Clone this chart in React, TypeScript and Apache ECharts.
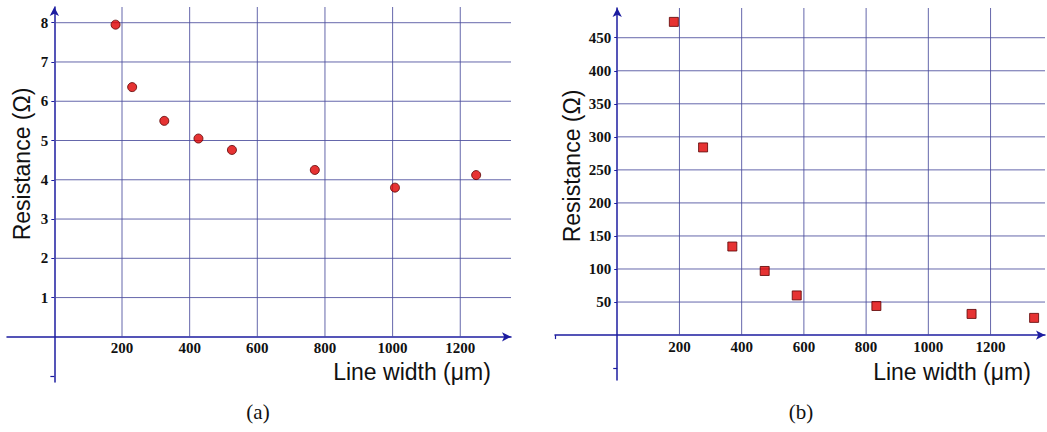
import React, { useEffect, useRef } from "react";
import * as echarts from "echarts";

// Chart (a): circles
const A_WIDTH = [181, 230, 325, 426, 525, 770, 1007, 1247];
const A_RES = [7.95, 6.36, 5.5, 5.05, 4.76, 4.25, 3.8, 4.12];
const A_X_LABELS = [200, 400, 600, 800, 1000, 1200];
const A_Y_LABELS = [1, 2, 3, 4, 5, 6, 7, 8];

// Chart (b): squares
const B_WIDTH = [182, 276, 370, 474, 577, 833, 1139, 1340];
const B_RES = [474, 284, 134, 97, 60, 44, 32, 26];
const B_X_LABELS = [200, 400, 600, 800, 1000, 1200];
const B_Y_LABELS = [50, 100, 150, 200, 250, 300, 350, 400, 450];

const AXIS_COLOR = "#1c1ca0";
const GRID_COLOR = "#4a4c9c";

// layout of each panel: full pixel box and axis value ranges
const PANELS = [
  { left: 7, top: 7, width: 504, height: 375, xMin: -140, xMax: 1350, yMin: -1.15, yMax: 8.4, xTick: [] as number[], yTick: [-1] },
  { left: 555, top: 8, width: 490, height: 372, xMin: -200, xMax: 1375, yMin: -68, yMax: 495, xTick: [-200], yTick: [-50] },
];

function positiveGrid(p: any) {
  const zx = p.left + ((0 - p.xMin) / (p.xMax - p.xMin)) * p.width;
  const zy = p.top + ((p.yMax - 0) / (p.yMax - p.yMin)) * p.height;
  return { left: zx, top: p.top, width: p.left + p.width - zx, height: zy - p.top };
}

function gridSeries(id: number, xs: number[], ys: number[], xMax: number, yMax: number) {
  const data: number[][] = [];
  xs.forEach((v) => data.push([0, v]));
  ys.forEach((v) => data.push([1, v]));
  return {
    type: "custom",
    xAxisIndex: id,
    yAxisIndex: id,
    clip: false,
    silent: true,
    z: 1,
    data,
    renderItem: (params: any, api: any) => {
      const kind = api.value(0);
      const v = api.value(1);
      let p0, p1;
      if (kind === 0) {
        p0 = api.coord([v, 0]);
        p1 = api.coord([v, yMax]);
      } else {
        p0 = api.coord([0, v]);
        p1 = api.coord([xMax, v]);
      }
      return {
        type: "line",
        shape: { x1: p0[0], y1: p0[1], x2: p1[0], y2: p1[1] },
        style: { stroke: GRID_COLOR, lineWidth: 1, opacity: 0.85 },
      };
    },
  };
}

const labelStyle = {
  fontFamily: "Liberation Serif",
  fontWeight: "bold",
  fontSize: 15,
  color: "#111",
  formatter: (v: number) => String(v),
};

// axes of the positive quadrant: labels, ticks at labels, no line
function posAxis(id: number, max: number, labels: number[], isY: boolean) {
  return {
    type: "value",
    gridIndex: id,
    min: 0,
    max,
    splitLine: { show: false },
    axisLine: { show: false },
    axisTick: {
      show: isY,
      customValues: labels,
      length: 3,
      lineStyle: { color: AXIS_COLOR, width: 1 },
    },
    axisLabel: { ...labelStyle, customValues: labels, margin: isY ? 6 : 4 },
  };
}

// full-range axes: just the arrowed lines crossing at zero
function fullAxis(id: number, min: number, max: number, ticks: number[]) {
  return {
    type: "value",
    gridIndex: id,
    min,
    max,
    splitLine: { show: false },
    axisLine: {
      show: true,
      onZero: true,
      symbol: ["none", "arrow"],
      symbolSize: [7, 9],
      lineStyle: { color: AXIS_COLOR, width: 1.5 },
    },
    axisTick: {
      show: ticks.length > 0,
      customValues: ticks,
      length: 4,
      lineStyle: { color: AXIS_COLOR, width: 1.2 },
    },
    axisLabel: { show: false },
  };
}

const nameStyle = {
  fontFamily: "Liberation Sans",
  fontSize: 23,
  fill: "#111",
};

export default function App() {
  const ref = useRef<HTMLDivElement>(null);
  useEffect(() => {
    document.body.style.margin = "0";
    const chart = echarts.init(ref.current!, undefined, { renderer: "svg" });
    const [pa, pb] = PANELS;
    chart.setOption({
      animation: false,
      backgroundColor: "#ffffff",
      grid: [
        positiveGrid(pa),
        positiveGrid(pb),
        { left: pa.left, top: pa.top, width: pa.width, height: pa.height },
        { left: pb.left, top: pb.top, width: pb.width, height: pb.height },
      ],
      xAxis: [
        posAxis(0, pa.xMax, A_X_LABELS, false),
        posAxis(1, pb.xMax, B_X_LABELS, false),
        fullAxis(2, pa.xMin, pa.xMax, pa.xTick),
        fullAxis(3, pb.xMin, pb.xMax, pb.xTick),
      ],
      yAxis: [
        posAxis(0, pa.yMax, A_Y_LABELS, true),
        posAxis(1, pb.yMax, B_Y_LABELS, true),
        fullAxis(2, pa.yMin, pa.yMax, pa.yTick),
        fullAxis(3, pb.yMin, pb.yMax, pb.yTick),
      ],
      series: [
        gridSeries(0, A_X_LABELS, A_Y_LABELS, pa.xMax, pa.yMax),
        gridSeries(1, B_X_LABELS, B_Y_LABELS, pb.xMax, pb.yMax),
        { type: "scatter", xAxisIndex: 2, yAxisIndex: 2, data: [] },
        { type: "scatter", xAxisIndex: 3, yAxisIndex: 3, data: [] },
        {
          type: "scatter",
          xAxisIndex: 0,
          yAxisIndex: 0,
          z: 5,
          symbol: "circle",
          symbolSize: 9,
          itemStyle: { color: "#e00000", borderColor: "#5a0000", borderWidth: 1 },
          data: A_WIDTH.map((w, i) => [w, A_RES[i]]),
        },
        {
          type: "scatter",
          xAxisIndex: 1,
          yAxisIndex: 1,
          z: 5,
          symbol: "rect",
          symbolSize: 9,
          itemStyle: { color: "#e00000", borderColor: "#5a0000", borderWidth: 1 },
          data: B_WIDTH.map((w, i) => [w, B_RES[i]]),
        },
      ],
      graphic: [
        {
          type: "text",
          x: 22,
          y: 164,
          rotation: Math.PI / 2,
          style: { ...nameStyle, text: "Resistance (Ω)", align: "center", verticalAlign: "middle" },
        },
        {
          type: "text",
          x: 572,
          y: 166,
          rotation: Math.PI / 2,
          style: { ...nameStyle, text: "Resistance (Ω)", align: "center", verticalAlign: "middle" },
        },
        {
          type: "text",
          x: 412,
          y: 372,
          style: { ...nameStyle, text: "Line width (μm)", align: "center", verticalAlign: "middle" },
        },
        {
          type: "text",
          x: 952,
          y: 372,
          style: { ...nameStyle, text: "Line width (μm)", align: "center", verticalAlign: "middle" },
        },
        {
          type: "text",
          x: 258,
          y: 412,
          style: {
            text: "(a)",
            fontFamily: "Liberation Serif",
            fontSize: 21,
            fill: "#111",
            align: "center",
            verticalAlign: "middle",
          },
        },
        {
          type: "text",
          x: 801,
          y: 412,
          style: {
            text: "(b)",
            fontFamily: "Liberation Serif",
            fontSize: 21,
            fill: "#111",
            align: "center",
            verticalAlign: "middle",
          },
        },
      ],
    });
    return () => chart.dispose();
  }, []);
  return <div ref={ref} style={{ width: 1047, height: 432 }} />;
}
